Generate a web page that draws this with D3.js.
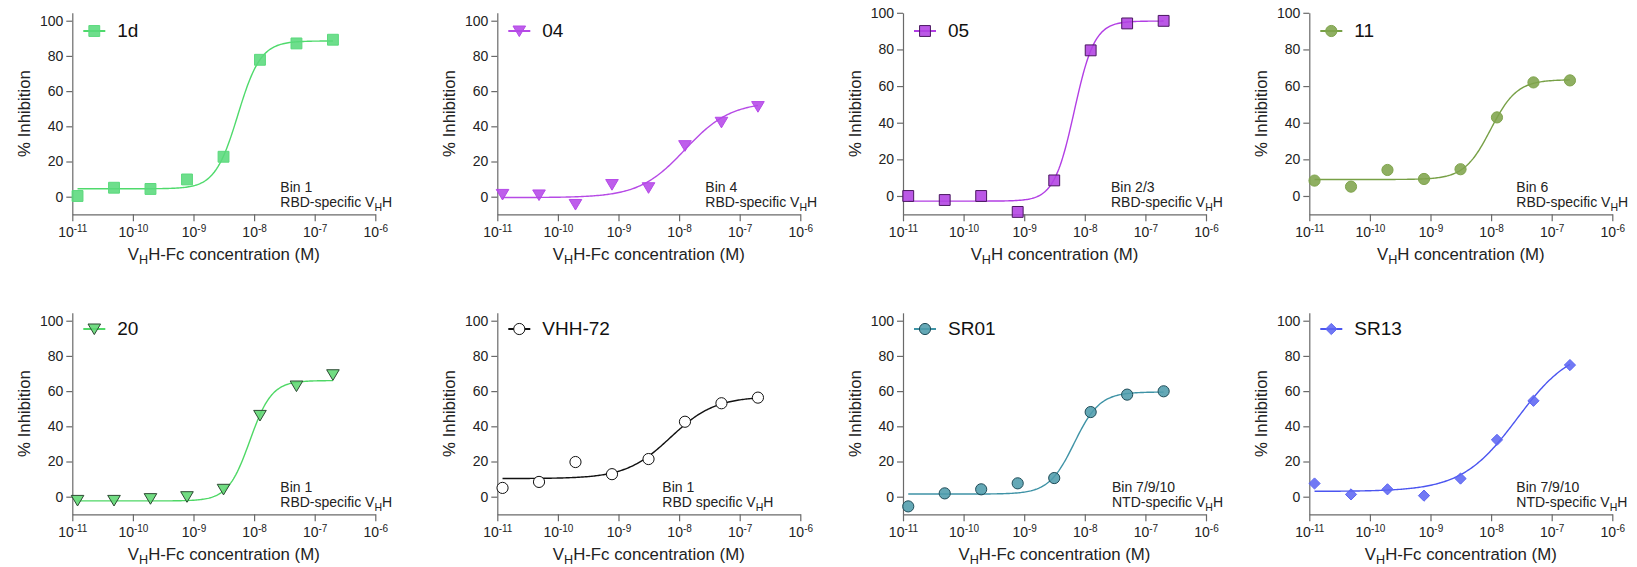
<!DOCTYPE html>
<html>
<head>
<meta charset="utf-8">
<script src="https://cdn.jsdelivr.net/npm/d3@7"></script>
<style>
body { margin: 0; background: #fff; }
svg { font-family: "Liberation Sans", Arial, sans-serif; }
.axis path, .axis line { stroke: #6a6a6a; stroke-width: 1.2; }
.axis text { font-size: 14px; fill: #222; font-family: "Liberation Sans", Arial, sans-serif; }
.title { font-size: 16.8px; fill: #222; }
.legend-label { font-size: 19px; fill: #111; }
.note { font-size: 14px; fill: #222; }
</style>
</head>
<body>
<svg id="chart" width="1637" height="567"></svg>
<script>
// molar concentrations (4-fold dilutions), same for every panel
var concentrations = [1.22e-11, 4.88e-11, 1.95e-10, 7.81e-10, 3.13e-9, 1.25e-8, 5e-8, 2e-7];

var names = ["1d", "04", "05", "11", "20", "VHH-72", "SR01", "SR13"];

// % inhibition
var inh1d   = [0.4, 5.1, 4.4, 9.8, 22.7, 77.8, 87.1, 89.2];
var inh04   = [1.3, 1.0, -4.4, 6.9, 5.1, 29.0, 42.3, 51.2];
var inh05   = [0, -2.2, 0, -8.7, 8.5, 79.5, 94.2, 95.6];
var inh11   = [8.4, 5.1, 14.2, 9.3, 14.6, 42.9, 62.0, 63.1];
var inh20   = [-2.1, -2.1, -1.1, 0, 4.2, 46.2, 62.9, 69.3];
var inhVHH72 = [5.0, 8.4, 19.7, 12.8, 21.4, 42.6, 53.1, 56.3];
var inhSR01 = [-5.5, 1.9, 4.2, 7.6, 10.6, 48.1, 58.0, 59.9];
var inhSR13 = [7.5, 1.3, 4.2, 0.6, 10.3, 32.3, 54.5, 74.8];

// four-parameter logistic fit for each panel
var fitBottom = [4.5, -0.5, -2.8, 9.0, -2.4, 10.3, 1.5, 3.0];
var fitTop    = [88.5, 54, 95.5, 63.5, 66, 57, 59.5, 86];
var fitEC50   = [5.4e-9, 1.25e-8, 6.7e-9, 9.8e-9, 8.5e-9, 7.2e-9, 6.7e-9, 2.7e-8];
var fitHill   = [2.3, 1.15, 2.6, 2.0, 2.4, 1.18, 2.07, 0.95];

var bins = ["Bin 1", "Bin 4", "Bin 2/3", "Bin 6", "Bin 1", "Bin 1", "Bin 7/9/10", "Bin 7/9/10"];
var specificity = ["RBD-specific", "RBD-specific", "RBD-specific", "RBD-specific", "RBD-specific", "RBD specific", "NTD-specific", "NTD-specific"];
var xTitleSuffix = ["H-Fc concentration (M)", "H-Fc concentration (M)", "H concentration (M)", "H concentration (M)",
	"H-Fc concentration (M)", "H-Fc concentration (M)", "H-Fc concentration (M)", "H-Fc concentration (M)"];

var xTickValues = [1e-11, 1e-10, 1e-9, 1e-8, 1e-7, 1e-6];
var xTickExponents = ["-11", "-10", "-9", "-8", "-7", "-6"];
var yTickValues = [0, 20, 40, 60, 80, 100];
var yMin = -10;
var yMax = [104.5, 104.5, 100, 100, 104.5, 104.5, 104.5, 104.5];

var series = [inh1d, inh04, inh05, inh11, inh20, inhVHH72, inhSR01, inhSR13];

// look of each panel
var symbols  = ["square", "triDown", "square", "circle", "triDown", "circle", "circle", "diamond"];
var fills    = ["#5ad97c", "#b548e8", "#b241e2", "#7fa44c", "#5fd772", "#ffffff", "#4f9cac", "#5d66f3"];
var strokes  = ["#5ad97c", "#b548e8", "#4a1760", "#7fa44c", "#2d4a33", "#111111", "#1f4c58", "#5d66f3"];
var lineCols = ["#4fda6c", "#b64ae6", "#b23ee4", "#77a046", "#4fd866", "#111111", "#3f93a6", "#4b55f0"];

var panelLeft = [72.3, 497.3, 903, 1309.3];
var rowBottom = [214.3, 514.3];
var plotW = 303, plotH = 201.5;
var legendY = [31, 329];
var noteX = [208, 208, 208, 207, 208, 165, 209, 207];

var svg = d3.select("#chart");

function symbolPath(type) {
	if (type == "square") return d3.symbol().type(d3.symbolSquare).size(118)();
	if (type == "circle") return d3.symbol().type(d3.symbolCircle).size(98)();
	if (type == "diamond") return "M0,-5.6L5.6,0L0,5.6L-5.6,0Z";
	// downward triangle, box-centred
	return "M-6.3,-5L6.3,-5L0,5.6Z";
}

// "V" + subscript "H" + rest
function vhhText(sel, rest) {
	sel.append("tspan").text("V");
	sel.append("tspan").attr("font-size", "0.75em").attr("dy", 4).text("H");
	sel.append("tspan").attr("dy", -4).text(rest);
}

names.forEach(function(name, i) {
	var col = i % 4, row = Math.floor(i / 4);
	var x0 = panelLeft[col], yB = rowBottom[row];

	var g = svg.append("g")
		.attr("transform", "translate(" + x0 + "," + (yB - plotH) + ")");

	var xScale = d3.scaleLog().domain([1e-11, 1e-6]).range([0, plotW]);
	var yScale = d3.scaleLinear().domain([yMin, yMax[i]]).range([plotH, 0]);

	var xAxis = d3.axisBottom(xScale).tickValues(xTickValues).tickSize(7).tickSizeOuter(0).tickPadding(6)
		.tickFormat(function() { return ""; });
	var yAxis = d3.axisLeft(yScale).tickValues(yTickValues).tickSize(6).tickSizeOuter(0).tickPadding(3);

	var gx = g.append("g")
		.attr("class", "x axis")
		.attr("transform", "translate(0," + plotH + ")")
		.call(xAxis);
	gx.selectAll(".tick text").each(function(d, k) {
		var t = d3.select(this);
		t.append("tspan").text("10");
		t.append("tspan").attr("font-size", "10px").attr("dy", "-0.55em").text(xTickExponents[k]);
	});
	g.append("g")
		.attr("class", "y axis")
		.call(yAxis);

	// y title
	g.append("text")
		.attr("class", "title")
		.attr("transform", "translate(-42," + (plotH / 2) + ") rotate(-90)")
		.attr("text-anchor", "middle")
		.text("% Inhibition");

	// x title
	var xt = g.append("text")
		.attr("class", "title")
		.attr("x", plotW / 2)
		.attr("y", plotH + 46)
		.attr("text-anchor", "middle");
	vhhText(xt, xTitleSuffix[i]);

	// fitted curve
	var fitPts = d3.range(0, 201).map(function(k) {
		var lx = Math.log10(concentrations[0]) + k / 200 * (Math.log10(concentrations[7]) - Math.log10(concentrations[0]));
		var c = Math.pow(10, lx);
		return [c, fitBottom[i] + (fitTop[i] - fitBottom[i]) / (1 + Math.pow(fitEC50[i] / c, fitHill[i]))];
	});
	var line = d3.line()
		.x(function(d) { return xScale(d[0]); })
		.y(function(d) { return yScale(d[1]); });
	g.append("path")
		.attr("d", line(fitPts))
		.attr("fill", "none")
		.attr("stroke", lineCols[i])
		.attr("stroke-width", 1.4);

	// points
	g.selectAll(".pt")
		.data(series[i])
		.enter().append("path")
		.attr("class", "pt")
		.attr("transform", function(d, k) { return "translate(" + xScale(concentrations[k]) + "," + yScale(d) + ")"; })
		.attr("d", symbolPath(symbols[i]))
		.attr("fill", fills[i])
		.attr("fill-opacity", i == 5 ? 1 : 0.88)
		.attr("stroke", strokes[i])
		.attr("stroke-width", 1);

	// legend
	var ly = legendY[row] - (yB - plotH);
	g.append("line")
		.attr("x1", 11).attr("x2", 33)
		.attr("y1", ly).attr("y2", ly)
		.attr("stroke", lineCols[i])
		.attr("stroke-width", 2);
	g.append("path")
		.attr("transform", "translate(22," + ly + ")")
		.attr("d", symbolPath(symbols[i]))
		.attr("fill", fills[i])
		.attr("fill-opacity", i == 5 ? 1 : 0.88)
		.attr("stroke", strokes[i])
		.attr("stroke-width", 1);
	g.append("text")
		.attr("class", "legend-label")
		.attr("x", 45)
		.attr("y", ly + 6.5)
		.text(name);

	// bin note
	g.append("text")
		.attr("class", "note")
		.attr("x", noteX[i])
		.attr("y", plotH - 22.3)
		.text(bins[i]);
	var nt = g.append("text")
		.attr("class", "note")
		.attr("x", noteX[i])
		.attr("y", plotH - 7.3);
	nt.append("tspan").text(specificity[i] + " ");
	vhhText(nt, "H");
});
</script>
</body>
</html>
